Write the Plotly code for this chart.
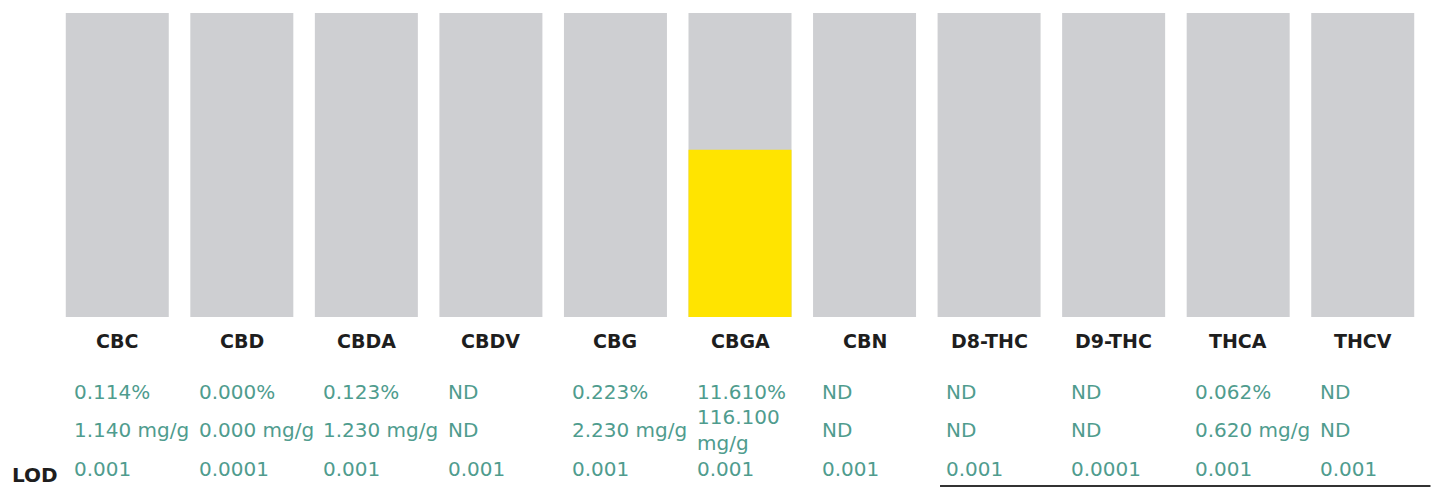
import plotly.graph_objects as go

categories = ["CBC", "CBD", "CBDA", "CBDV", "CBG", "CBGA", "CBN", "D8-THC", "D9-THC", "THCA", "THCV"]
pct_text = ["0.114%", "0.000%", "0.123%", "ND", "0.223%", "11.610%", "ND", "ND", "ND", "0.062%", "ND"]
mg_text = ["1.140 mg/g", "0.000 mg/g", "1.230 mg/g", "ND", "2.230 mg/g", "116.100<br>mg/g", "ND", "ND", "ND", "0.620 mg/g", "ND"]
lod_text = ["0.001", "0.0001", "0.001", "0.001", "0.001", "0.001", "0.001", "0.001", "0.0001", "0.001", "0.001"]
# visible filled level of each column (percent)
fill_pct = [0, 0, 0, 0, 0, 11.61, 0, 0, 0, 0, 0]
scale_max = 21.1
track = [scale_max] * len(categories)

GRAY = "#cecfd2"
YELLOW = "#ffe400"
LABEL = "#1e1e1e"
VALUE = "#4f9c8e"
FONT = "DejaVu Sans, Verdana, sans-serif"

fig = go.Figure()
fig.add_trace(go.Bar(x=categories, y=track, marker=dict(color=GRAY, line=dict(width=0)),
                     hoverinfo="skip", showlegend=False))
fig.add_trace(go.Bar(x=categories, y=fill_pct, marker=dict(color=YELLOW, line=dict(width=0)),
                     showlegend=False))

ann = []
for i, c in enumerate(categories):
    ann.append(dict(x=c, xref="x", y=0, yref="paper", yshift=-24, yanchor="middle",
                    xanchor="center", text=f"<b>{c}</b>", showarrow=False,
                    font=dict(family=FONT, size=19, color=LABEL)))
    for txt, dy in ((pct_text[i], -75), (mg_text[i], -113), (lod_text[i], -152)):
        ann.append(dict(x=c, xref="x", y=0, yref="paper", yshift=dy, yanchor="middle",
                        xanchor="left", xshift=-45, align="left", text=txt, showarrow=False,
                        font=dict(family=FONT, size=20, color=VALUE)))
ann.append(dict(x=0, xref="paper", y=0, yref="paper", yshift=-158, yanchor="middle",
                xanchor="left", xshift=-45, text="<b>LOD</b>", showarrow=False,
                font=dict(family=FONT, size=20, color=LABEL)))

fig.update_layout(
    width=1442, height=489,
    margin=dict(l=55, r=17, t=13, b=172),
    paper_bgcolor="white", plot_bgcolor="white",
    barmode="overlay", bargap=0.173,
    xaxis=dict(showticklabels=False, showgrid=False, zeroline=False, showline=False, ticks=""),
    yaxis=dict(range=[0, scale_max], showticklabels=False, showgrid=False, zeroline=False,
               showline=False, ticks=""),
    annotations=ann,
    shapes=[dict(type="line", xref="paper", yref="paper", x0=0.646, x1=1.004, y0=-0.556, y1=-0.556,
                 line=dict(color="#333333", width=2))],
)

fig.write_html("out.html", config={"displayModeBar": False},
               post_script="document.body.style.margin='0';document.body.style.overflow='hidden';")
